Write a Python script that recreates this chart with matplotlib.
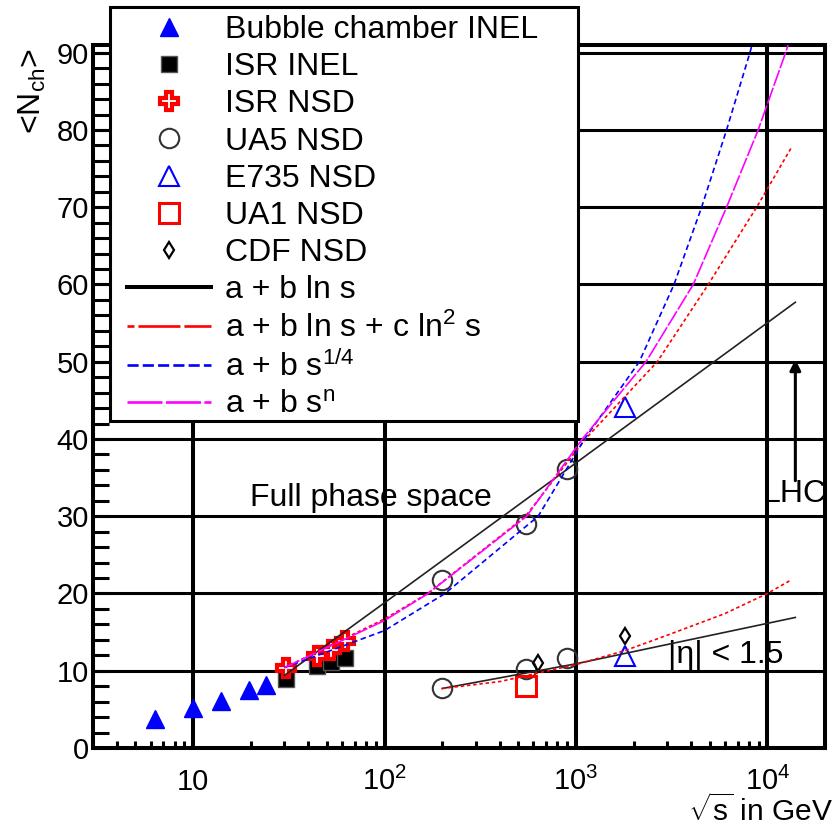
import matplotlib
matplotlib.use('Agg')
import matplotlib.pyplot as plt
from matplotlib.lines import Line2D
from matplotlib.patches import Rectangle
from matplotlib.ticker import MultipleLocator, LogLocator, NullFormatter

plt.rcParams['font.family'] = ['Liberation Sans', 'DejaVu Sans']
plt.rcParams['mathtext.fontset'] = 'custom'
plt.rcParams['mathtext.rm'] = 'Liberation Sans'
plt.rcParams['mathtext.it'] = 'Liberation Sans:italic'
plt.rcParams['mathtext.bf'] = 'Liberation Sans:bold'
plt.rcParams['lines.scale_dashes'] = False

# measurements (sqrt(s) in GeV, <N_ch>)
bubble_x = [6.3, 10.0, 14.0, 19.7, 24.0]
bubble_y = [3.8, 5.2, 6.1, 7.5, 8.2]
isr_x = [30.4, 44.5, 52.6, 62.4]
isr_inel_y = [8.9, 10.6, 11.1, 11.7]
isr_nsd_y = [10.4, 11.9, 12.7, 13.9]
ua5_x = [200, 546, 900, 200, 546, 900]
ua5_y = [21.8, 29.0, 36.1, 7.8, 10.2, 11.7]
e735_x = [1800, 1800]
e735_y = [44.1, 11.9]
ua1_x = [546]
ua1_y = [8.0]
cdf_x = [630, 1800]
cdf_y = [11.0, 14.5]

# fit curves - full phase space
lns_x = [30, 100, 1000, 14000]
lns_y = [9.4, 18.8, 36.9, 57.7]
ln2s_x = [30, 100, 168, 545, 1120, 2660, 4910, 8790, 13400]
ln2s_y = [10.4, 16.7, 20, 30, 40, 50, 60, 70, 77.8]
s14_x = [30, 100, 207, 635, 1110, 2143, 3253, 4533, 6120, 8105, 8350]
s14_y = [10.4, 15.2, 20, 30, 40, 50, 60, 70, 80, 90, 91.2]
sn_x = [30, 100, 169, 553, 1080, 2322, 4100, 6120, 8950, 12450, 12900]
sn_y = [10.4, 16.5, 20, 30, 40, 50, 60, 70, 80, 90, 91.2]

# fit curves - |eta| < 1.5
eta_lns_x = [200, 1000, 14000]
eta_lns_y = [7.7, 10.9, 16.9]
eta_ln2s_x = [200, 400, 1000, 1800, 3000, 6000, 10000, 13400]
eta_ln2s_y = [7.7, 8.6, 10.8, 12.6, 14.6, 17.4, 20.0, 21.8]

W, H = 837, 826
fig = plt.figure(figsize=(W / 100, H / 100), dpi=100)
ax = fig.add_axes([93 / W, 1 - 748 / H, 732 / W, 703 / H])
ax.set_xscale('log')
ax.set_xlim(3, 2e4)
ax.set_ylim(0, 91)

# markers
mk = dict(ls='none', zorder=3)
st_bubble = dict(marker='^', ms=13, color='#0000ff', mec='#0000ff')
st_isr_inel = dict(marker='s', ms=12, color='black', mec='#555555', mew=1)
st_isr_nsd = dict(marker='P', ms=13, mfc='white', mec='#ff0000', mew=3)
st_ua5 = dict(marker='o', ms=14, mfc='none', mec='#333333', mew=1.5)
st_e735 = dict(marker='^', ms=15, mfc='none', mec='#0000ff', mew=1.5)
st_ua1 = dict(marker='s', ms=15, mfc='none', mec='#ff0000', mew=2.2)
st_cdf = dict(marker='d', ms=8, mfc='none', mec='black', mew=1.6)

ax.plot(bubble_x, bubble_y, **st_bubble, **mk)
ax.plot(isr_x, isr_inel_y, **st_isr_inel, **mk)
ax.plot(isr_x, isr_nsd_y, **st_isr_nsd, **mk)
ax.plot(ua5_x, ua5_y, **st_ua5, **mk)
ax.plot(e735_x, e735_y, **st_e735, **mk)
ax.plot(ua1_x, ua1_y, **st_ua1, **mk)
ax.plot(cdf_x, cdf_y, **st_cdf, **mk)

# fit lines
ax.plot(lns_x, lns_y, color='#222222', lw=1.2, zorder=4)
ax.plot(ln2s_x, ln2s_y, color='#ff0000', lw=1.2, dashes=(2.5, 2), zorder=4)
ax.plot(s14_x, s14_y, color='#0000ff', lw=1.2, dashes=(4, 2.5), zorder=4)
ax.plot(sn_x, sn_y, color='#ff00ff', lw=1.2, dashes=(12, 1.5), zorder=4)
ax.plot(eta_lns_x, eta_lns_y, color='#222222', lw=1.2, zorder=4)
ax.plot(eta_ln2s_x, eta_ln2s_y, color='#ff0000', lw=1.2, dashes=(2.5, 2), zorder=4)

# grid, ticks, spines
ax.set_axisbelow(True)
ax.xaxis.grid(True, which='major', color='black', lw=2.9)
ax.yaxis.grid(True, which='major', color='black', lw=2.2)
for sp in ax.spines.values():
    sp.set_linewidth(2.9)

ax.yaxis.set_major_locator(MultipleLocator(10))
ax.yaxis.set_minor_locator(MultipleLocator(2))
ax.tick_params(axis='y', which='both', direction='in', length=11.5, width=2.2,
               labelsize=21, pad=3)
ax.set_xticks([10, 100, 1000, 10000], labels=['10', '$10^2$', '$10^3$', '$10^4$'])
ax.xaxis.set_minor_locator(LogLocator(base=10, subs=range(2, 10)))
ax.xaxis.set_minor_formatter(NullFormatter())
ax.tick_params(axis='x', which='major', direction='in', length=0, labelsize=21, pad=30)
ax.tick_params(axis='x', which='minor', direction='in', length=5, width=2.2)
for t in ax.get_xticklabels():
    t.set_verticalalignment('baseline')

# annotations
ax.text(19.9, 32.4, 'Full phase space', fontsize=23, va='center')
ax.text(3020, 12.1, '|η| < 1.5', fontsize=23, va='center')
ax.text(9380, 32.9, 'LHC', fontsize=23, va='center')
ax.annotate('', xy=(14000, 50.3), xytext=(14000, 34.6),
            arrowprops=dict(arrowstyle='-|>', color='black', lw=2.2,
                            mutation_scale=16, shrinkA=0, shrinkB=0))

fig.text(32 / W, 1 - 48 / H, r'<N$_{\mathrm{ch}}$>', rotation=90,
         ha='center', va='top', fontsize=23)
fig.text(833 / W, 1 - 821 / H, r'$\sqrt{\mathrm{s}}$ in GeV', ha='right',
         va='baseline', fontsize=21.5)

# legend
frame = Rectangle((110 / W, 1 - 421 / H), 468 / W, 414 / H, transform=fig.transFigure,
                  fc='white', ec='black', lw=2.2, zorder=4.5)
fig.add_artist(frame)

handles = [
    Line2D([], [], ls='none', **st_bubble),
    Line2D([], [], ls='none', **st_isr_inel),
    Line2D([], [], ls='none', **st_isr_nsd),
    Line2D([], [], ls='none', **st_ua5),
    Line2D([], [], ls='none', **st_e735),
    Line2D([], [], ls='none', **st_ua1),
    Line2D([], [], ls='none', **st_cdf),
    Line2D([], [], color='black', lw=2.9),
    Line2D([], [], color='#ff0000', lw=1.9, ls=(25.2, (30.2, 2.9))),
    Line2D([], [], color='#0000ff', lw=1.9, dashes=(8, 3)),
    Line2D([], [], color='#ff00ff', lw=1.9, dashes=(25.2, 2.5)),
]
labels = ['Bubble chamber INEL', 'ISR INEL', 'ISR NSD', 'UA5 NSD', 'E735 NSD',
          'UA1 NSD', 'CDF NSD', 'a + b ln s', r'a + b ln s + c ln$^2$ s',
          r'a + b s$^{1/4}$', r'a + b s$^{\mathrm{n}}$']
leg = fig.legend(handles, labels, loc='upper left',
                 bbox_to_anchor=(127 / W, 1 - 15 / H), bbox_transform=fig.transFigure,
                 frameon=False, fontsize=23, borderpad=0, borderaxespad=0,
                 handlelength=2.63, handletextpad=0.44, labelspacing=0.225)
leg.set_zorder(5)

fig.savefig('out.png', dpi=100)
